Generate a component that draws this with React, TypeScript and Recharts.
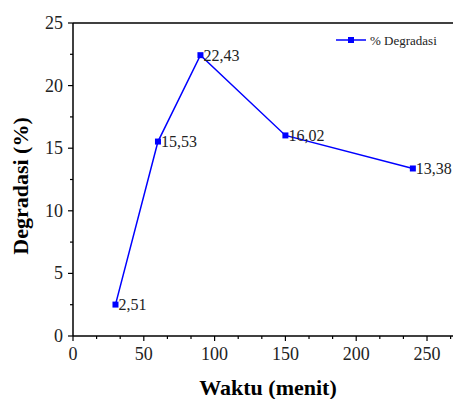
import React from 'react';
import { LineChart, Line, XAxis, YAxis, ReferenceLine, LabelList, Legend } from 'recharts';

const waktu = [30, 60, 90, 150, 240];
const degradasi = [2.51, 15.53, 22.43, 16.02, 13.38];
const xMajorTicks = [0, 50, 100, 150, 200, 250];
const xAllTicks = [0, 16.667, 33.333, 50, 66.667, 83.333, 100, 116.667, 133.333, 150, 166.667, 183.333, 200, 216.667, 233.333, 250, 266.667];
const yMajorTicks = [0, 5, 10, 15, 20, 25];
const yAllTicks = [0, 2.5, 5, 7.5, 10, 12.5, 15, 17.5, 20, 22.5, 25];

const data = waktu.map((w, i) => ({ x: w, y: degradasi[i] }));

const FONT = '"Liberation Serif", "DejaVu Serif", serif';
const BLUE = '#0000ff';

const XTick = (props: any) => {
  const { x, y, payload } = props;
  const major = xMajorTicks.includes(payload.value);
  return (
    <g>
      <line x1={x} x2={x} y1={y} y2={y + (major ? 5 : 3)} stroke="#000" strokeWidth={1.2} />
      {major && (
        <text x={x} y={y + 24} textAnchor="middle" fontFamily={FONT} fontSize={18} fill="#222">
          {payload.value}
        </text>
      )}
    </g>
  );
};

const YTick = (props: any) => {
  const { x, y, payload } = props;
  const major = yMajorTicks.includes(payload.value);
  return (
    <g>
      <line x1={x} x2={x - (major ? 5 : 3)} y1={y} y2={y} stroke="#000" strokeWidth={1.2} />
      {major && (
        <text x={x - 10} y={y + 6} textAnchor="end" fontFamily={FONT} fontSize={18} fill="#222">
          {payload.value}
        </text>
      )}
    </g>
  );
};

const Dot = (p: any) => (
  <rect key={`d${p.index}`} x={p.cx - 3} y={p.cy - 3} width={6} height={6} fill={BLUE} />
);

const PointLabel = (p: any) => (
  <text x={p.x + 3} y={p.y + 5.5} fontFamily={FONT} fontSize={16} fill="#222">
    {String(p.value).replace('.', ',')}
  </text>
);

const LegendContent = () => (
  <svg width={120} height={16}>
    <line x1={0} x2={30} y1={8} y2={8} stroke={BLUE} strokeWidth={1.5} />
    <rect x={12} y={5} width={6} height={6} fill={BLUE} />
    <text x={34} y={12.5} fontFamily={FONT} fontSize={13} fill="#222">% Degradasi</text>
  </svg>
);

export default function App() {
  return (
    <LineChart width={453} height={391} data={data} margin={{ top: 15, right: 0, bottom: 0, left: 0 }}>
      <XAxis
        dataKey="x"
        type="number"
        domain={[0, 274]}
        ticks={xAllTicks}
        interval={0}
        height={63}
        tickSize={0}
        tickMargin={0}
        tickLine={false}
        axisLine={{ stroke: '#000', strokeWidth: 1.5 }}
        tick={<XTick />}
      />
      <YAxis
        type="number"
        domain={[0, 25]}
        ticks={yAllTicks}
        interval={0}
        width={65}
        tickSize={0}
        tickMargin={0}
        tickLine={false}
        axisLine={{ stroke: '#000', strokeWidth: 1.5 }}
        tick={<YTick />}
      />
      <ReferenceLine y={25} stroke="#000" strokeWidth={1.5} />
      <Legend
        layout="horizontal"
        verticalAlign="middle"
        align="center"
        content={<LegendContent />}
        wrapperStyle={{ position: 'absolute', top: 24, left: 328, width: 120 }}
      />
      <Line
        type="linear"
        dataKey="y"
        stroke={BLUE}
        strokeWidth={1.5}
        dot={Dot}
        activeDot={false}
        isAnimationActive={false}
        legendType="square"
      >
        <LabelList dataKey="y" content={PointLabel} />
      </Line>
      <text x={260} y={387} textAnchor="middle" fontFamily={FONT} fontSize={22} fontWeight="bold" fill="#000">
        Waktu (menit)
      </text>
      <text
        x={20}
        y={178}
        transform="rotate(-90, 20, 178)"
        textAnchor="middle"
        fontFamily={FONT}
        fontSize={22}
        fontWeight="bold"
        fill="#000"
      >
        Degradasi (%)
      </text>
    </LineChart>
  );
}
